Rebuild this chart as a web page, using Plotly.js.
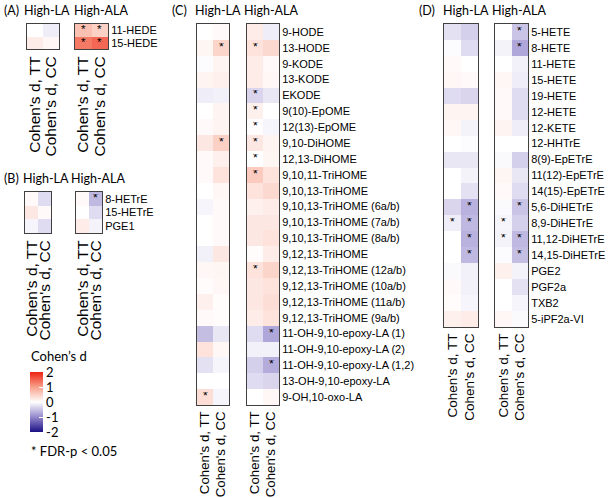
<!DOCTYPE html>
<html><head><meta charset="utf-8">
<script src="https://cdn.plot.ly/plotly-3.0.1.min.js"></script>
<style>html,body{margin:0;padding:0;background:#fff}#chart{width:608px;height:498px}</style>
</head><body><div id="chart"></div>
<script>
// ---------- data ----------
const colLabels = ["Cohen's d, TT", "Cohen's d, CC"];
const panelTitles = ["(A)", "(B)", "(C)", "(D)"];
const groupTitles = ["High-LA", "High-ALA"];

// Panel A
const aRows = ["11-HEDE", "15-HEDE"];
const aLA_TT = [0.0, 0.2];
const aLA_CC = [-0.15, 0.08];
const aALA_TT = [0.65, 1.3];
const aALA_CC = [0.5, 1.45];
const aLA_TT_sig = [0, 0];
const aLA_CC_sig = [0, 0];
const aALA_TT_sig = [1, 1];
const aALA_CC_sig = [1, 1];

// Panel B
const bRows = ["8-HETrE", "15-HETrE", "PGE1"];
const bLA_TT = [0.05, 0.25, -0.08];
const bLA_CC = [-0.3, 0.05, -0.3];
const bALA_TT = [0.05, 0.0, 0.2];
const bALA_CC = [-0.6, -0.3, -0.1];
const bLA_TT_sig = [0, 0, 0];
const bLA_CC_sig = [0, 0, 0];
const bALA_TT_sig = [0, 0, 0];
const bALA_CC_sig = [1, 0, 0];

// Panel C
const cRows = ["9-HODE", "13-HODE", "9-KODE", "13-KODE", "EKODE", "9(10)-EpOME", "12(13)-EpOME",
  "9,10-DiHOME", "12,13-DiHOME", "9,10,11-TriHOME", "9,10,13-TriHOME", "9,10,13-TriHOME (6a/b)",
  "9,10,13-TriHOME (7a/b)", "9,10,13-TriHOME (8a/b)", "9,12,13-TriHOME", "9,12,13-TriHOME (12a/b)",
  "9,12,13-TriHOME (10a/b)", "9,12,13-TriHOME (11a/b)", "9,12,13-TriHOME (9a/b)",
  "11-OH-9,10-epoxy-LA (1)", "11-OH-9,10-epoxy-LA (2)", "11-OH-9,10-epoxy-LA (1,2)",
  "13-OH-9,10-epoxy-LA", "9-OH,10-oxo-LA"];
const cLA_TT = [0.0, 0.1, -0.03, 0.12, -0.15, 0.0, 0.05, 0.25, 0.05, 0.05, 0.0, -0.08, 0.0, 0.0, -0.12, 0.08, 0.03, 0.15, 0.05, -0.55, 0.3, -0.25, 0.0, 0.35];
const cLA_CC = [0.05, 0.45, 0.12, 0.15, -0.12, 0.12, 0.12, 0.5, 0.15, 0.3, 0.08, 0.05, 0.05, 0.05, 0.25, 0.1, 0.08, 0.03, 0.03, -0.2, 0.08, -0.08, 0.0, -0.08];
const cALA_TT = [0.2, 0.3, 0.2, 0.2, -0.35, 0.15, 0.02, 0.25, 0.0, 0.55, 0.3, 0.15, 0.25, 0.25, 0.03, 0.3, 0.25, 0.25, 0.2, -0.3, -0.12, -0.4, -0.3, 0.0];
const cALA_CC = [-0.15, 0.4, 0.05, 0.08, -0.2, 0.0, -0.08, 0.12, 0.1, 0.3, 0.4, 0.2, 0.25, 0.3, 0.2, 0.45, 0.3, 0.35, 0.3, -0.75, -0.12, -0.7, -0.35, 0.08];
const cLA_TT_sig = [0,0,0,0,0,0,0,0,0,0,0,0,0,0,0,0,0,0,0,0,0,0,0,1];
const cLA_CC_sig = [0,1,0,0,0,0,0,1,0,0,0,0,0,0,0,0,0,0,0,0,0,0,0,0];
const cALA_TT_sig = [0,1,0,0,1,1,1,1,1,1,0,0,0,0,0,1,0,0,0,0,0,0,0,0];
const cALA_CC_sig = [0,0,0,0,0,0,0,0,0,0,0,0,0,0,0,0,0,0,0,1,0,1,0,0];

// Panel D
const dRows = ["5-HETE", "8-HETE", "11-HETE", "15-HETE", "19-HETE", "12-HETE", "12-KETE", "12-HHTrE",
  "8(9)-EpETrE", "11(12)-EpETrE", "14(15)-EpETrE", "5,6-DiHETrE", "8,9-DiHETrE", "11,12-DiHETrE",
  "14,15-DiHETrE", "PGE2", "PGF2a", "TXB2", "5-iPF2a-VI"];
const dLA_TT = [-0.25, -0.03, 0.05, 0.08, -0.3, 0.12, 0.08, 0.0, -0.2, 0.0, 0.0, -0.35, -0.15, 0.0, 0.0, -0.05, 0.05, 0.03, 0.15];
const dLA_CC = [-0.4, -0.3, 0.0, 0.05, -0.35, 0.12, -0.1, -0.03, -0.2, -0.1, -0.25, -0.65, -0.6, -0.65, -0.6, -0.12, -0.12, -0.08, 0.2];
const dALA_TT = [0.0, -0.1, 0.0, 0.08, 0.05, 0.05, 0.12, 0.0, -0.05, 0.1, 0.05, -0.05, -0.08, -0.1, -0.03, 0.15, 0.0, 0.0, 0.08];
const dALA_CC = [-0.5, -0.75, -0.12, -0.15, -0.3, -0.3, -0.15, 0.0, -0.4, -0.2, -0.3, -0.5, -0.4, -0.6, -0.55, -0.1, -0.25, -0.08, -0.05];
const dLA_TT_sig = [0,0,0,0,0,0,0,0,0,0,0,0,1,0,0,0,0,0,0];
const dLA_CC_sig = [0,0,0,0,0,0,0,0,0,0,0,1,1,1,1,0,0,0,0];
const dALA_TT_sig = [0,0,0,0,0,0,0,0,0,0,0,0,1,1,0,0,0,0,0];
const dALA_CC_sig = [1,1,0,0,0,0,0,0,0,0,0,1,0,1,1,0,0,0,0];

// colour scale / legend
const cbTickVals = [-2, -1, 0, 1, 2];
const cbTickText = ["-2", "-1", "0", "1", "2"];
const legendTitle = "Cohen\u2019s d";
const sigNote = "* FDR-p < 0.05";

// ---------- layout geometry (pixels) ----------
const W = 608, H = 498;
const px = v => v / W;
const py = v => 1 - v / H;

const panels = [
  {rows: aRows, la: [aLA_TT, aLA_CC], ala: [aALA_TT, aALA_CC], laSig: [aLA_TT_sig, aLA_CC_sig], alaSig: [aALA_TT_sig, aALA_CC_sig],
   laX: [27, 59], alaX: [75, 108], y: [24, 49], colFont: 15.5, starSize: 11.5,
   title: {y: 10, p: 1.5, la: 21.5, ala: 71.5}},
  {rows: bRows, la: [bLA_TT, bLA_CC], ala: [bALA_TT, bALA_CC], laSig: [bLA_TT_sig, bLA_CC_sig], alaSig: [bALA_TT_sig, bALA_CC_sig],
   laX: [25, 51], alaX: [76, 102], y: [192, 233], colFont: 15.5, starSize: 12,
   title: {y: 178, p: 1.5, la: 20.5, ala: 68.5}},
  {rows: cRows, la: [cLA_TT, cLA_CC], ala: [cALA_TT, cALA_CC], laSig: [cLA_TT_sig, cLA_CC_sig], alaSig: [cALA_TT_sig, cALA_CC_sig],
   laX: [197, 229], alaX: [247, 279], y: [24, 405], colFont: 13.3, starSize: 12,
   title: {y: 10, p: 170, la: 192.5, ala: 241.5}},
  {rows: dRows, la: [dLA_TT, dLA_CC], ala: [dALA_TT, dALA_CC], laSig: [dLA_TT_sig, dLA_CC_sig], alaSig: [dALA_TT_sig, dALA_CC_sig],
   laX: [444, 478], alaX: [495, 528], y: [24, 327], colFont: 13.5, starSize: 12,
   title: {y: 10, p: 416.5, la: 440.5, ala: 489.5}}
];

const colorscale = [[0, '#1b1184'], [0.25, '#9488cc'], [0.5, '#ffffff'], [0.75, '#f7a08a'], [1, '#ee2211']];
const labelFont = '"Liberation Sans", Arial, Helvetica, sans-serif';
const titleFont = 'Lato, "Open Sans", sans-serif';
const titleSize = 12.5;

const data = [];
const layout = {
  width: W, height: H, margin: {l: 0, r: 0, t: 0, b: 0},
  paper_bgcolor: '#fff', plot_bgcolor: '#fff', showlegend: false,
  font: {family: labelFont, color: '#000'},
  coloraxis: {
    colorscale: colorscale, cmin: -2, cmax: 2,
    colorbar: {
      x: px(30), xanchor: 'left', y: py(402), yanchor: 'middle',
      len: 60, lenmode: 'pixels', thickness: 13, thicknessmode: 'pixels',
      tickmode: 'array', tickvals: cbTickVals, ticktext: cbTickText, ticks: 'inside', ticklen: 4, tickcolor: '#ffffff', tickwidth: 1,
      tickfont: {family: titleFont, size: 13, color: '#000'},
      outlinewidth: 0, xpad: 0, ypad: 0
    }
  },
  annotations: []
};

let ax = 0;
panels.forEach((p, pi) => {
  const groups = [
    {x: p.laX, vals: p.la, sig: p.laSig, labels: false},
    {x: p.alaX, vals: p.ala, sig: p.alaSig, labels: true}
  ];
  groups.forEach(g => {
    ax += 1;
    const xn = ax === 1 ? 'x' : 'x' + ax;
    const yn = ax === 1 ? 'y' : 'y' + ax;
    const z = p.rows.map((r, k) => [g.vals[0][k], g.vals[1][k]]);
    data.push({type: 'heatmap', x: colLabels, y: p.rows, z: z, coloraxis: 'coloraxis',
      xaxis: xn, yaxis: yn, hoverinfo: 'skip'});
    g.sig.forEach((arr, ci) => arr.forEach((s, k) => {
      if (s) layout.annotations.push({xref: xn, yref: yn, x: ci, y: k, text: '*', showarrow: false,
        xanchor: 'center', yanchor: 'middle', width: 7, height: 8, borderpad: 0, yshift: 1,
        font: {family: labelFont, size: p.starSize, color: '#000'}});
    }));
    const n = p.rows.length;
    layout['xaxis' + (ax === 1 ? '' : ax)] = {
      domain: [px(g.x[0]), px(g.x[1])], anchor: yn, type: 'category',
      categoryorder: 'array', categoryarray: colLabels, range: [-0.5, 1.5],
      tickmode: 'array', tickvals: colLabels, ticktext: colLabels,
      tickangle: -90, ticks: '', showgrid: false, zeroline: false,
      showline: true, mirror: true, linecolor: '#404040', linewidth: 1,
      tickfont: {family: labelFont, size: p.colFont, color: '#000'}, fixedrange: true
    };
    layout['yaxis' + (ax === 1 ? '' : ax)] = {
      domain: [py(p.y[1]), py(p.y[0])], anchor: xn, type: 'category',
      categoryorder: 'array', categoryarray: p.rows, range: [n - 0.5, -0.5],
      tickmode: 'array', tickvals: p.rows, ticktext: p.rows,
      side: 'right', ticks: '', showgrid: false, zeroline: false, showticklabels: g.labels,
      showline: true, mirror: true, linecolor: '#404040', linewidth: 1,
      tickfont: {family: labelFont, size: 11, color: '#000'}, fixedrange: true
    };
  });
  const t = p.title;
  [[t.p, panelTitles[pi]], [t.la, groupTitles[0]], [t.ala, groupTitles[1]]].forEach(([xx, txt]) => {
    layout.annotations.push({xref: 'paper', yref: 'paper', x: px(xx), y: py(t.y), xanchor: 'left', yanchor: 'middle',
      text: txt, showarrow: false, font: {family: titleFont, size: titleSize, color: '#000'}});
  });
});

layout.annotations.push({xref: 'paper', yref: 'paper', x: px(29), y: py(356), xanchor: 'left', yanchor: 'middle',
  text: legendTitle, showarrow: false, font: {family: titleFont, size: 13, color: '#000'}});
layout.annotations.push({xref: 'paper', yref: 'paper', x: px(29), y: py(451), xanchor: 'left', yanchor: 'middle',
  text: sigNote, showarrow: false, font: {family: titleFont, size: 13, color: '#000'}});

Plotly.newPlot('chart', data, layout, {staticPlot: true, displayModeBar: false});
</script>
</body></html>
